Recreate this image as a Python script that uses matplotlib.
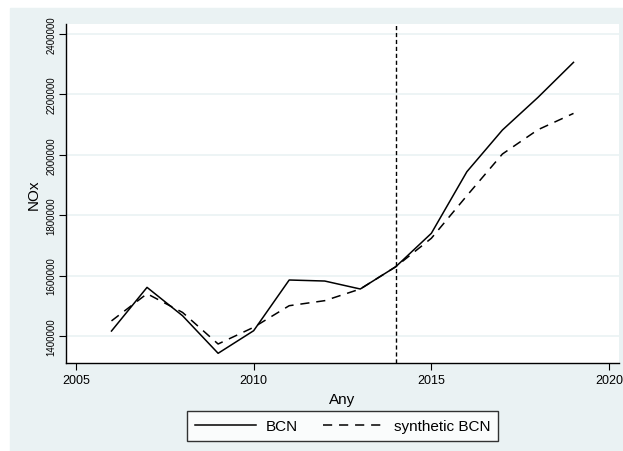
import matplotlib.pyplot as plt
from matplotlib.patches import Rectangle

years = [2006, 2007, 2008, 2009, 2010, 2011, 2012, 2013, 2014, 2015, 2016, 2017, 2018, 2019]
bcn = [1416500, 1561000, 1467000, 1342700, 1417500, 1585400, 1582000, 1555600,
       1629500, 1740000, 1944000, 2082000, 2190000, 2306000]
synth_bcn = [1450000, 1540000, 1478000, 1373500, 1428800, 1500300, 1517000, 1555600,
             1629500, 1723500, 1864600, 2002600, 2083000, 2137000]
treat_year = 2014
xticks = [2005, 2010, 2015, 2020]
yticks = [1400000, 1600000, 1800000, 2000000, 2200000, 2400000]

plt.rcParams["font.family"] = ["Liberation Sans", "DejaVu Sans"]

BG = "#EAF2F3"
W, H = 623, 452

fig = plt.figure(figsize=(W / 100, H / 100), dpi=100)
fig.patches.append(Rectangle((10 / W, 0), 1 - 10 / W, 1 - 9 / H,
                             transform=fig.transFigure, color=BG, zorder=-10))

ax = fig.add_axes([66 / W, 1 - 364 / H, (619 - 66) / W, (364 - 25) / H])
ax.set_facecolor("white")

ax.plot(years, bcn, color="black", lw=1.1, label="BCN")
ax.plot(years, synth_bcn, color="black", lw=1.1, ls=(0, (6, 4.5)), label="synthetic BCN")
ax.axvline(treat_year, color="black", lw=1.0, ls=(0, (3, 2)))

ax.set_xlim(2004.72, 2020.28)
ax.set_ylim(1310600, 2433000)
ax.set_xticks(xticks)
ax.set_yticks(yticks)
ax.set_yticklabels([str(v) for v in yticks], rotation=90, va="center", fontsize=7)
ax.tick_params(axis="x", labelsize=9, length=5, width=0.8, pad=3)
ax.tick_params(axis="y", length=5, width=0.8, pad=2)
ax.grid(axis="y", color=BG, lw=1.2)
ax.set_axisbelow(True)

for s in ["top", "right"]:
    ax.spines[s].set_visible(False)
for s in ["left", "bottom"]:
    ax.spines[s].set_linewidth(1.0)

ax.set_xlabel("Any", fontsize=11, labelpad=4)
ax.set_ylabel("NOx", fontsize=11, labelpad=4)

ax.legend(loc="upper center", bbox_to_anchor=(0.5, -0.143), ncol=2, frameon=True,
          fancybox=False, edgecolor="black", fontsize=11, handlelength=4.0,
          handletextpad=0.65, columnspacing=1.6, borderpad=0.5,
          borderaxespad=0)

fig.savefig("out.png", dpi=100)
